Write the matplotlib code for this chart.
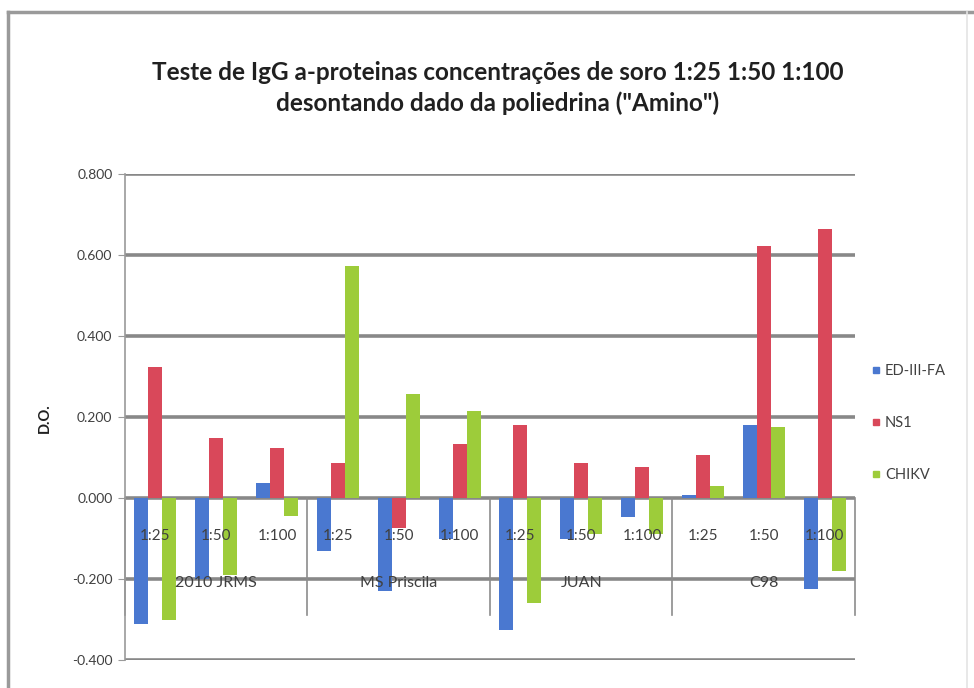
import matplotlib
matplotlib.use("Agg")
import matplotlib.pyplot as plt
from matplotlib.lines import Line2D
import numpy as np

plt.rcParams['font.family'] = ['Lato', 'DejaVu Sans']

# Data
groups = ["2010 JRMS", "MS Priscila", "JUAN", "C98"]
dilutions = ["1:25", "1:50", "1:100"]
series_names = ["ED-III-FA", "NS1", "CHIKV"]

ed3_fa = [-0.310, -0.200, 0.037,
          -0.130, -0.230, -0.100,
          -0.325, -0.100, -0.047,
          0.008, 0.180, -0.225]
ns1 = [0.323, 0.149, 0.124,
       0.087, -0.075, 0.133,
       0.180, 0.086, 0.077,
       0.106, 0.623, 0.665]
chikv = [-0.300, -0.190, -0.045,
         0.572, 0.258, 0.215,
         -0.260, -0.088, -0.090,
         0.030, 0.175, -0.180]

colors = ["#4a78d0", "#d9485a", "#9dcc3a"]
title = ("Teste de IgG a-proteinas concentrações de soro 1:25 1:50 1:100\n"
         "desontando dado da poliedrina (\"Amino\")")

fig = plt.figure(figsize=(9.74, 6.88), dpi=100)
fig.patch.set_facecolor("white")

# outer chart frame
fig.add_artist(Line2D([8/974, 1.0], [1-12/688, 1-12/688], color="#9a9a9a", lw=2.5))
fig.add_artist(Line2D([8/974, 8/974], [0, 1-12/688], color="#9a9a9a", lw=2.5))
fig.add_artist(Line2D([967/974, 967/974], [0, 1-12/688], color="#e4e4e4", lw=1.2))

ax = fig.add_axes([125/974, 1-660/688, 730/974, 486/688])
ax.set_xlim(0, 12)
ax.set_ylim(-0.4, 0.8)

yt = np.round(np.arange(-0.4, 0.81, 0.2), 1)
ax.set_yticks(yt)
ax.set_yticklabels([f"{v:.3f}" for v in yt], fontsize=10, color="#404040")
for v in yt:
    ax.axhline(v, color="#888888", lw=2.6, zorder=1)

n = len(ed3_fa)
x = np.arange(n) + 0.5
w = 0.23
for k, vals in enumerate([ed3_fa, ns1, chikv]):
    ax.bar(x + (k - 1) * w, vals, width=w, color=colors[k], zorder=3,
           label=series_names[k])

# category axis decorations
for gx in range(0, n + 1, 3):
    ax.plot([gx, gx], [0, -0.29], color="#8c8c8c", lw=1.2, zorder=2,
            clip_on=False)
for i in range(n):
    ax.text(x[i], -0.093, dilutions[i % 3], ha="center", va="center",
            fontsize=11, color="#404040", zorder=4)
for j, g in enumerate(groups):
    ax.text(3 * j + 1.5, -0.21, g, ha="center", va="center",
            fontsize=11.5, color="#404040", zorder=4)

ax.set_xticks([])
for s in ["top", "right", "bottom"]:
    ax.spines[s].set_visible(False)
ax.spines["left"].set_color("#9a9a9a")
ax.spines["left"].set_linewidth(1.2)
ax.tick_params(axis="y", length=5, color="#9a9a9a", pad=4)

fig.text(45/974, 1-418/688, "D.O.", rotation=90, ha="center", va="center",
         fontsize=10.5, fontweight="bold", color="#202020")

fig.text(498/974, 1-88/688, title, ha="center", va="center", fontsize=17.5,
         fontweight="bold", color="#202020", linespacing=1.35)

handles = [Line2D([], [], marker="s", ls="", color=c, markersize=5)
           for c in colors]
fig.legend(handles, series_names, loc="upper left",
           bbox_to_anchor=(866/974, 1-358/688), frameon=False, fontsize=10.5,
           handlelength=0.6, handletextpad=0.3, labelspacing=2.6,
           borderaxespad=0, labelcolor="#404040")

fig.savefig("out.png", dpi=100, facecolor="white")
